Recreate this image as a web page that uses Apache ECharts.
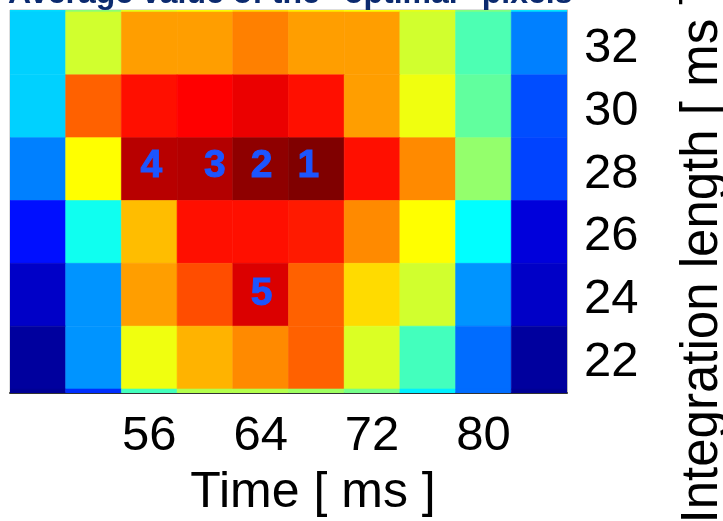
<!DOCTYPE html>
<html>
<head>
<meta charset="utf-8">
<script src="https://cdn.jsdelivr.net/npm/echarts@6/dist/echarts.min.js"></script>
<style>
  html, body { margin: 0; padding: 0; background: #ffffff; }
  #chart { width: 723px; height: 521px; }
</style>
</head>
<body>
<div id="chart"></div>
<script>
// Time bins (ms) along x, integration lengths (ms) along y
const timeMs = [48, 52, 56, 60, 64, 68, 72, 76, 80, 84];
const lengthMs = [34, 32, 30, 28, 26, 24, 22, 20];

// Average value of the "optimal" pixels, one array per integration length
const avgLen34 = [0.34, 0.51, 0.60, 0.62, 0.66, 0.64, 0.62, 0.60, 0.50, 0.35];
const avgLen32 = [0.33, 0.58, 0.72, 0.72, 0.75, 0.72, 0.72, 0.58, 0.45, 0.25];
const avgLen30 = [0.33, 0.78, 0.86, 0.875, 0.895, 0.86, 0.72, 0.61, 0.47, 0.20];
const avgLen28 = [0.25, 0.625, 0.945, 0.95, 0.985, 1.00, 0.86, 0.74, 0.52, 0.19];
const avgLen26 = [0.14, 0.39, 0.69, 0.86, 0.86, 0.85, 0.74, 0.625, 0.375, 0.09];
const avgLen24 = [0.07, 0.27, 0.72, 0.80, 0.91, 0.78, 0.66, 0.58, 0.27, 0.07];
const avgLen22 = [0.03, 0.27, 0.61, 0.70, 0.74, 0.78, 0.59, 0.44, 0.23, 0.03];
const avgLen20 = [0.02, 0.17, 0.44, 0.55, 0.55, 0.53, 0.49, 0.36, 0.23, 0.02];

// Tick labels
const timeTicks = [56, 64, 72, 80];
const lengthTicks = [22, 24, 26, 28, 30, 32];

// Ranked cells: rank, time, integration length
const rankText = ['1', '2', '3', '4', '5'];
const rankTime = [68, 64, 60, 56, 64];
const rankLength = [28, 28, 28, 28, 24];

const rows = [avgLen34, avgLen32, avgLen30, avgLen28, avgLen26, avgLen24, avgLen22, avgLen20];
const cells = [];
rows.forEach((row, r) => {
  row.forEach((v, c) => cells.push([timeMs[c], lengthMs[r], v]));
});

// small pixel nudges for the rank numbers
const rankNudge = [[-8, -3], [1, -3], [10, -3], [2, -3], [1, -1]];
const rankData = rankText.map((t, i) => ({
  value: [rankTime[i], rankLength[i], t],
  label: { offset: rankNudge[i] }
}));

const jet = ['#000080', '#0000ff', '#0080ff', '#00ffff', '#80ff80',
             '#ffff00', '#ff8000', '#ff0000', '#800000'];
const FONT = "'Liberation Sans', Arial, sans-serif";

const chart = echarts.init(document.getElementById('chart'), null, { renderer: 'canvas' });

chart.setOption({
  animation: false,
  backgroundColor: '#ffffff',
  title: {
    text: 'Average value of the "optimal" pixels',
    left: 3,
    top: -27,
    textStyle: { fontFamily: FONT, fontSize: 32, fontWeight: 'bold', color: '#0b2a6f' }
  },
  grid: {
    left: 10, right: 156, top: 10, bottom: 128,
    show: true, borderColor: '#bbbbbb', borderWidth: 1
  },
  visualMap: {
    show: false,
    type: 'continuous',
    seriesIndex: 0,
    dimension: 2,
    min: 0,
    max: 1,
    inRange: { color: jet }
  },
  xAxis: {
    type: 'value',
    min: 46,
    max: 86,
    axisLine: { show: true, onZero: false, lineStyle: { color: '#333333', width: 2 } },
    axisTick: { show: false },
    splitLine: { show: false },
    axisLabel: {
      customValues: timeTicks,
      fontFamily: FONT, fontSize: 49, color: '#000000', margin: 19
    }
  },
  yAxis: {
    type: 'value',
    position: 'right',
    min: 20.873,
    max: 33.064,
    axisLine: { show: true, onZero: false, lineStyle: { color: '#bbbbbb', width: 1 } },
    axisTick: { show: false },
    splitLine: { show: false },
    axisLabel: {
      customValues: lengthTicks,
      fontFamily: FONT, fontSize: 49, color: '#000000', margin: 17,
      verticalAlign: 'top',
      lineHeight: 10
    }
  },
  graphic: [
    {
      type: 'text',
      x: 313, y: 493,
      style: {
        text: 'Time [ ms ]',
        font: "50px 'Liberation Sans', Arial, sans-serif",
        fill: '#000000',
        align: 'center', verticalAlign: 'middle',
        textAlign: 'center', textVerticalAlign: 'middle'
      }
    },
    {
      type: 'text',
      x: 703, y: 257,
      rotation: Math.PI / 2,
      style: {
        text: 'Integration length [ ms ]',
        font: "51px 'Liberation Sans', Arial, sans-serif",
        fill: '#000000',
        align: 'center', verticalAlign: 'middle',
        textAlign: 'center', textVerticalAlign: 'middle'
      }
    }
  ],
  series: [
    {
      type: 'custom',
      coordinateSystem: 'cartesian2d',
      data: cells,
      encode: { x: 0, y: 1 },
      clip: true,
      renderItem: function (params, api) {
        const x = api.value(0);
        const y = api.value(1);
        const p0 = api.coord([x - 2, y + 1]);
        const p1 = api.coord([x + 2, y - 1]);
        const rect = echarts.graphic.clipRectByRect(
          { x: p0[0], y: p0[1], width: p1[0] - p0[0], height: p1[1] - p0[1] },
          { x: params.coordSys.x, y: params.coordSys.y,
            width: params.coordSys.width, height: params.coordSys.height }
        );
        if (!rect) return null;
        const c = api.visual('color');
        return { type: 'rect', shape: rect, style: { fill: c, stroke: c, lineWidth: 0.6 } };
      }
    },
    {
      type: 'scatter',
      data: rankData,
      symbolSize: 1,
      itemStyle: { color: 'rgba(0,0,0,0)' },
      z: 5,
      label: {
        show: true,
        position: 'inside',
        formatter: p => p.value[2],
        fontFamily: FONT,
        fontSize: 39,
        fontWeight: 'bold',
        color: '#1c55ff',
        opacity: 1,
        textBorderColor: '#1c55ff',
        textBorderWidth: 1
      }
    }
  ]
});
</script>
</body>
</html>
